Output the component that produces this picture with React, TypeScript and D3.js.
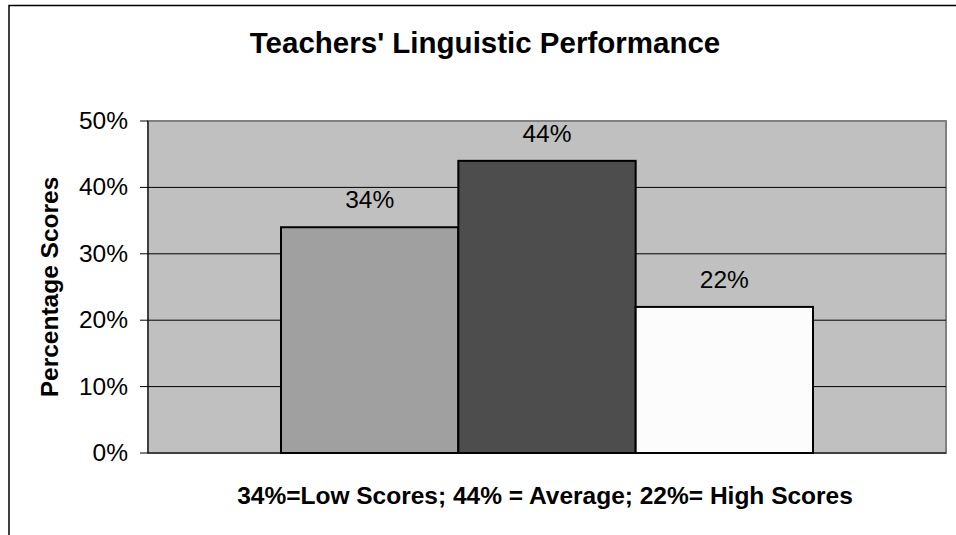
import React from "react";
import * as d3 from "d3";

const seriesNames = ["Low Scores", "Average", "High Scores"];
const values = [34, 44, 22];
const barColors = ["#a0a0a0", "#4d4d4d", "#fcfcfc"];
const yTicks = [0, 10, 20, 30, 40, 50];
const title = "Teachers' Linguistic Performance";
const yTitle = "Percentage Scores";
const xTitle = "34%=Low Scores; 44% = Average; 22%= High Scores";

export default function App() {
  const W = 956, H = 535;
  const plot = { left: 148, top: 121, right: 946, bottom: 453 };
  const y = d3.scaleLinear().domain([0, 50]).range([plot.bottom, plot.top]);
  const pw = plot.right - plot.left;
  const groupW = pw / 1.5; // bars occupy 2/3 of category (gap 150%)
  const barW = groupW / values.length;
  const x0 = plot.left + (pw - groupW) / 2;
  const x = d3.scaleBand().domain(seriesNames).range([x0, x0 + groupW]).padding(0);
  const font = "'Liberation Sans', Arial, sans-serif";
  return (
    <svg width={W} height={H} style={{ position: "absolute", left: 0, top: 0 }}>
      <rect x={0} y={0} width={W} height={H} fill="#ffffff" />
      <rect x={9} y={5.5} width={W + 20} height={H + 20} fill="#ffffff" stroke="#000" strokeWidth={1.5} />
      <text x={485} y={53} textAnchor="middle" fontFamily={font} fontWeight="bold" fontSize={29.5}>{title}</text>
      <rect x={plot.left} y={plot.top} width={pw} height={plot.bottom - plot.top} fill="#c0c0c0" stroke="#808080" strokeWidth={2} />
      {yTicks.map((t) => (
        <g key={t}>
          {t > 0 && t < 50 && (
            <line x1={plot.left} x2={plot.right} y1={y(t)} y2={y(t)} stroke="#000" strokeWidth={1} />
          )}
          <line x1={plot.left - 8} x2={plot.left} y1={y(t)} y2={y(t)} stroke="#000" strokeWidth={1} />
          <text x={128} y={y(t) + 8} textAnchor="end" fontFamily={font} fontSize={24.5}>{t}%</text>
        </g>
      ))}
      <line x1={plot.left} x2={plot.left} y1={plot.top} y2={plot.bottom} stroke="#000" strokeWidth={1} />
      {values.map((v, i) => (
        <g key={i}>
          <rect x={x(seriesNames[i])!} y={y(v)} width={barW} height={plot.bottom - y(v)} fill={barColors[i]} stroke="#000" strokeWidth={2} />
          <text x={x(seriesNames[i])! + barW / 2} y={y(v) - 19} textAnchor="middle" fontFamily={font} fontSize={24.5}>{v}%</text>
        </g>
      ))}
      <line x1={plot.left} x2={plot.right} y1={plot.bottom} y2={plot.bottom} stroke="#000" strokeWidth={1} />
      <text transform={`translate(58,287) rotate(-90)`} textAnchor="middle" fontFamily={font} fontWeight="bold" fontSize={24.5}>{yTitle}</text>
      <text x={545} y={504} textAnchor="middle" fontFamily={font} fontWeight="bold" fontSize={24.5}>{xTitle}</text>
    </svg>
  );
}
